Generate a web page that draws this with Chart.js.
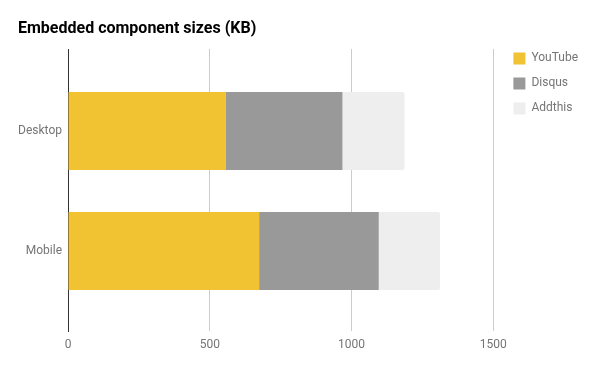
<!DOCTYPE html>
<html>
<head>
<meta charset="utf-8">
<script src="https://cdn.jsdelivr.net/npm/chart.js@4.4.0/dist/chart.umd.min.js"></script>
<style>
  html, body { margin: 0; padding: 0; background: #fff; }
  #wrap { width: 600px; height: 371px; }
</style>
</head>
<body>
<div id="wrap"><canvas id="chart"></canvas></div>
<script>
const categories = ['Desktop', 'Mobile'];
const youtube = [557, 674];
const disqus = [411, 422];
const addthis = [219, 216];
const xTicks = [0, 500, 1000, 1500];

Chart.defaults.font.family = "Roboto, 'Noto Sans', sans-serif";
Chart.defaults.color = '#757575';

// bars sit on a numeric index axis so the band spacing can match the original
const toPoints = vals => vals.map((v, i) => ({ x: v, y: i }));

new Chart(document.getElementById('chart'), {
    type: 'bar',
    data: {
        datasets: [
            { label: 'YouTube', data: toPoints(youtube), backgroundColor: '#f1c232' },
            { label: 'Disqus', data: toPoints(disqus), backgroundColor: '#999999' },
            { label: 'Addthis', data: toPoints(addthis), backgroundColor: '#eeeeee',
              borderRadius: { topRight: 2, bottomRight: 2 }, borderSkipped: false }
        ]
    },
    options: {
        indexAxis: 'y',
        responsive: true,
        maintainAspectRatio: false,
        animation: false,
        devicePixelRatio: 1,
        layout: { padding: { left: 18, right: 12, top: 0, bottom: 0 } },
        datasets: { bar: { barPercentage: 0.65, categoryPercentage: 1 } },
        scales: {
            x: {
                type: 'linear',
                stacked: true,
                min: 0,
                max: 1525,
                afterBuildTicks: s => { s.ticks = xTicks.map(v => ({ value: v })); },
                afterFit: s => { s.height = 40; },
                grid: {
                    drawTicks: false,
                    color: c => (c.tick && c.tick.value === 0) ? '#333333' : '#cccccc'
                },
                border: { display: false },
                ticks: { padding: 7, font: { size: 12 }, color: '#757575', callback: v => String(v) }
            },
            y: {
                type: 'linear',
                stacked: true,
                reverse: true,
                offset: false,
                min: -0.683,
                max: 1.667,
                z: 1,
                afterBuildTicks: s => { s.ticks = categories.map((c, i) => ({ value: i })); },
                afterFit: s => { s.width = 50; },
                grid: { display: false, drawTicks: false },
                border: { display: true, color: '#333333' },
                ticks: {
                    padding: 6,
                    font: { size: 12 },
                    color: '#757575',
                    callback: v => categories[v]
                }
            }
        },
        plugins: {
            title: {
                display: true,
                text: 'Embedded component sizes (KB)',
                align: 'start',
                color: '#000000',
                font: { size: 16, weight: 'bold' },
                padding: { top: 19, bottom: 10.8 }
            },
            legend: {
                position: 'right',
                align: 'start',
                // empty title just pushes the items down to line up with the original
                title: { display: true, text: '', padding: { top: 25, bottom: 0 } },
                labels: {
                    boxWidth: 12,
                    boxHeight: 12,
                    padding: 13,
                    color: '#757575',
                    font: { size: 12 }
                }
            },
            tooltip: { enabled: false }
        }
    }
});
</script>
</body>
</html>
